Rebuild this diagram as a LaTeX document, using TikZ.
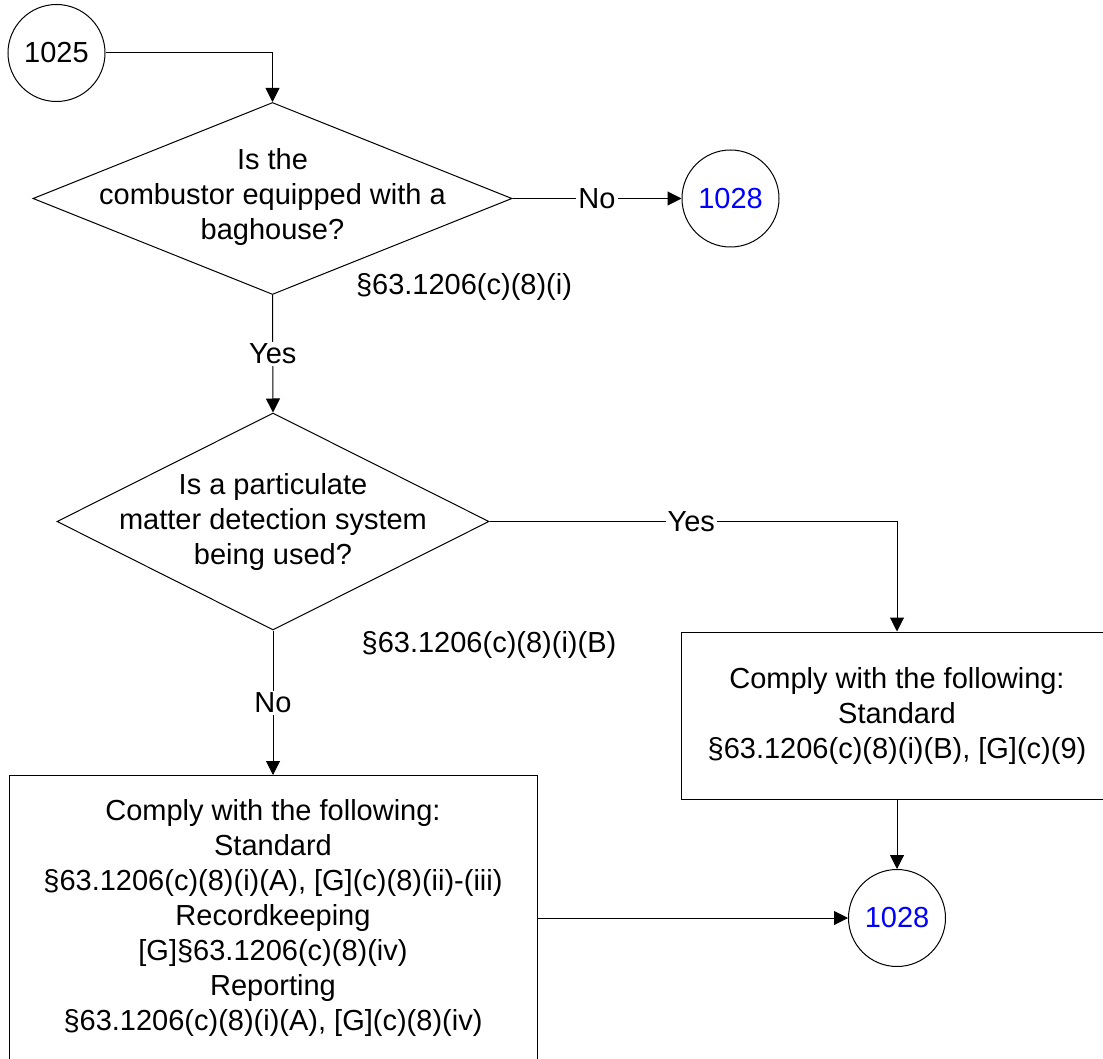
\documentclass[tikz,border=0pt]{standalone}
\usepackage{fontspec}
\setmainfont{Liberation Sans}
\usetikzlibrary{shapes.geometric,arrows.meta}
\definecolor{refblue}{RGB}{0,0,255}
\begin{document}
\begin{tikzpicture}[x=0.75pt,y=-0.75pt,
  every node/.style={font=\fontsize{21.75}{26.25}\selectfont},
  conn/.style={draw=black,line width=0.75pt},
  arr/.style={conn,-{Triangle[length=10.5pt,width=10.5pt]}},
  circ/.style={circle,draw,line width=0.75pt,minimum size=72.75pt,inner sep=0pt},
  dia/.style={diamond,draw,line width=0.75pt,inner sep=0pt},
  txt/.style={align=center,inner sep=0pt},
  stepbox/.style={rectangle,draw,line width=0.75pt,inner sep=0pt,align=center},
  lbl/.style={fill=white,inner sep=1.5pt}]
\useasboundingbox (0,0) rectangle (1103,1059);
\clip (0,0) rectangle (1103,1059);
\fill[white] (0,0) rectangle (1103,1059);

\node[circ] (c1025) at (56.5,53) {1025};

\node[dia,minimum width=359.25pt,minimum height=144pt] (d1) at (272.5,198.5) {};
\node[txt] (t1) at (272.5,197.5) {Is the\\combustor equipped with a\\baghouse?};
\node[inner sep=0pt] (r1) at (464,287) {§63.1206(c)(8)(i)};

\node[circ,text=refblue] (c1028a) at (730.5,198.5) {1028};

\node[dia,minimum width=324pt,minimum height=162.75pt] (d2) at (273,521.5) {};
\node[txt] (t2) at (273,522) {Is a particulate\\matter detection system\\being used?};
\node[inner sep=0pt] (r2) at (489,645) {§63.1206(c)(8)(i)(B)};

\node[stepbox,minimum width=324pt,minimum height=125.25pt] (b1) at (897,715.5)
  {Comply with the following:\\Standard\\§63.1206(c)(8)(i)(B), [G](c)(9)};

\node[stepbox,minimum width=396pt,minimum height=213.75pt] (b2) at (273,918)
  {Comply with the following:\\Standard\\§63.1206(c)(8)(i)(A), [G](c)(8)(ii)-(iii)\\Recordkeeping\\{}[G]§63.1206(c)(8)(iv)\\Reporting\\§63.1206(c)(8)(i)(A), [G](c)(8)(iv)};

\node[circ,text=refblue] (c1028b) at (897,918) {1028};

\draw[arr] (c1025.east) -| (d1.north);
\draw[arr] (d1.east) -- node[lbl] {No} (c1028a.west);
\draw[arr] (d1.south) -- node[lbl] {Yes} (d2.north);
\draw[arr] (d2.east) -| node[lbl,pos=0.2475] {Yes} (b1.north);
\draw[arr] (d2.south) -- node[lbl] {No} (b2.north);
\draw[arr] (b1.south) -- (c1028b.north);
\draw[arr] (b2.east) -- (c1028b.west);
\end{tikzpicture}
\end{document}
